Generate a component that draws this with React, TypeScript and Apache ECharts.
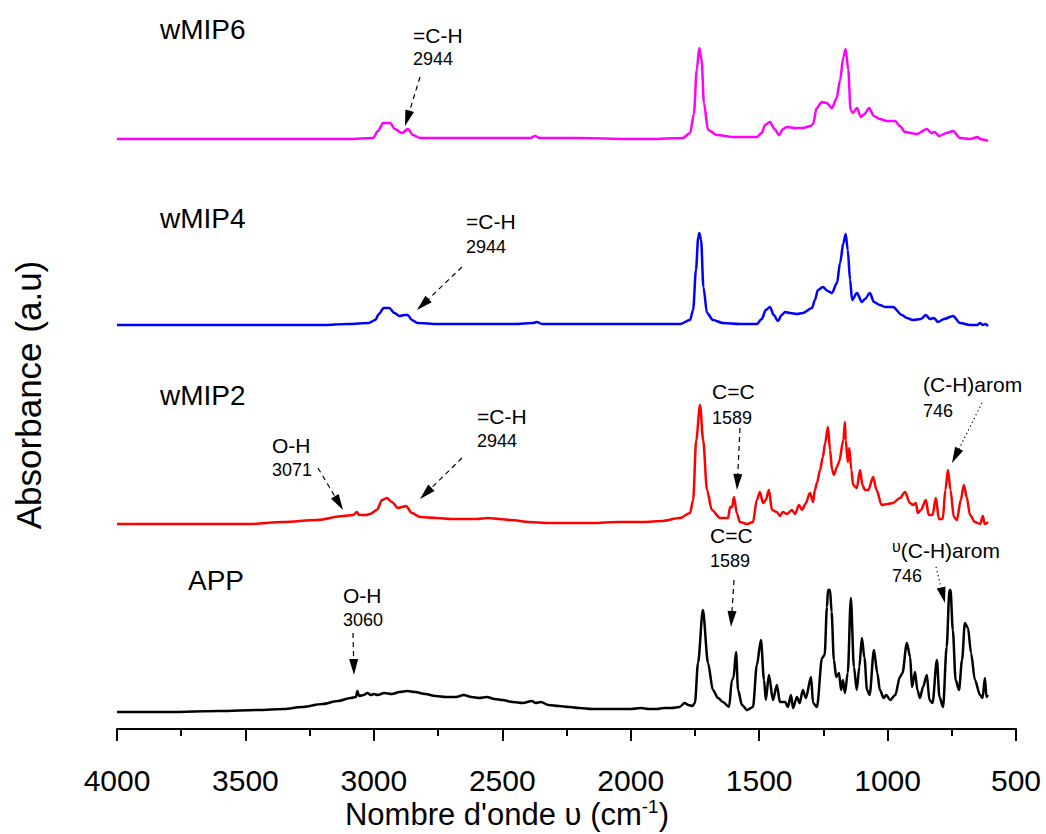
import React, { useEffect, useRef } from "react";
import * as echarts from "echarts";

// Wavenumber (cm-1) vs absorbance (arbitrary units, 100 = 1 a.u.), relative to each trace's own baseline
const appSpectrum: [number, number][] = [
  [4000, 0], [3800, 0], [3600, 1], [3450, 2], [3350, 3], [3280, 5], [3200, 8], [3140, 11], [3090, 14], [3070, 15],
  [3064, 21], [3058, 16], [3040, 17], [3025, 19], [3012, 17], [3000, 18], [2985, 17], [2960, 19], [2930, 18],
  [2900, 20], [2870, 21], [2840, 20], [2800, 18], [2760, 16], [2720, 15], [2680, 15], [2650, 17], [2620, 15],
  [2590, 14], [2560, 15], [2530, 13], [2500, 12], [2460, 10], [2420, 9], [2385, 11], [2370, 9], [2350, 10],
  [2320, 7], [2280, 6], [2240, 5], [2200, 4], [2150, 3], [2100, 3], [2050, 3], [2000, 3], [1960, 4], [1930, 3],
  [1900, 3], [1870, 4], [1840, 4], [1810, 5], [1790, 9], [1775, 7], [1760, 6], [1750, 9], [1738, 49], [1719, 102],
  [1699, 49], [1680, 22], [1660, 14], [1641, 10], [1617, 5], [1606, 32], [1600, 34], [1590, 60], [1582, 22],
  [1567, 7], [1547, 2], [1524, 5], [1509, 47], [1493, 72], [1481, 32], [1474, 12], [1462, 37], [1446, 12],
  [1431, 27], [1419, 10], [1399, 10], [1388, 5], [1376, 17], [1368, 4], [1353, 15], [1342, 9], [1330, 22],
  [1318, 14], [1298, 35], [1290, 9], [1275, 5], [1255, 54], [1245, 57], [1236, 105], [1232, 122], [1224, 122],
  [1218, 100], [1209, 52], [1200, 35], [1189, 39], [1181, 22], [1174, 32], [1166, 19], [1155, 39], [1143, 114],
  [1131, 45], [1120, 22], [1110, 45], [1100, 74], [1090, 54], [1080, 22], [1070, 17], [1053, 62], [1040, 39],
  [1030, 22], [1015, 14], [1005, 17], [990, 12], [970, 17], [952, 35], [942, 39], [925, 69], [912, 55], [905, 25],
  [893, 40], [884, 22], [874, 14], [862, 25], [847, 37], [837, 12], [825, 9], [808, 52], [798, 15], [784, 5],
  [770, 65], [759, 122], [755, 122], [746, 82], [735, 32], [722, 22], [710, 52], [699, 89], [687, 84], [675, 59],
  [660, 32], [640, 17], [630, 14], [621, 34], [615, 15], [609, 17],
];

const wmip2Spectrum: [number, number][] = [
  [4000, 0], [3800, 0], [3600, 0], [3482, 0], [3354, 2], [3221, 4], [3120, 8], [3081, 9], [3066, 12], [3058, 9],
  [3030, 9], [3015, 10], [2988, 14], [2968, 24], [2949, 26], [2930, 22], [2906, 16], [2890, 17], [2875, 18],
  [2852, 11], [2820, 7], [2754, 6], [2700, 5], [2653, 5], [2600, 5], [2556, 6], [2510, 5], [2470, 4], [2392, 2],
  [2326, 1], [2250, 1], [2150, 1], [2050, 2], [1950, 2], [1880, 3], [1808, 6], [1769, 11], [1757, 24], [1745, 84],
  [1730, 119], [1718, 84], [1703, 34], [1684, 14], [1652, 6], [1621, 6], [1613, 17], [1605, 17], [1598, 27],
  [1586, 10], [1575, 2], [1547, 0], [1524, 2], [1509, 24], [1497, 32], [1485, 21], [1474, 24], [1462, 34],
  [1450, 14], [1431, 12], [1419, 8], [1408, 12], [1392, 10], [1372, 14], [1360, 10], [1345, 19], [1333, 14],
  [1320, 20], [1302, 31], [1290, 22], [1283, 34], [1275, 41], [1263, 54], [1252, 67], [1243, 81], [1232, 97],
  [1224, 74], [1216, 54], [1209, 49], [1197, 57], [1189, 62], [1172, 84], [1166, 102], [1163, 84], [1155, 62],
  [1149, 76], [1141, 54], [1134, 39], [1120, 36], [1107, 54], [1098, 39], [1088, 34], [1075, 34], [1056, 47],
  [1043, 34], [1023, 19], [1000, 20], [979, 21], [952, 26], [932, 32], [913, 21], [900, 19], [890, 21], [882, 11],
  [870, 14], [851, 24], [840, 9], [825, 9], [812, 26], [800, 5], [785, 5], [775, 34], [765, 54], [755, 34],
  [742, 7], [730, 4], [715, 24], [703, 39], [692, 27], [679, 9], [660, 2], [640, 0], [629, 8], [622, 0], [609, 2],
];

const wmip4Spectrum: [number, number][] = [
  [4000, 0], [3800, 0], [3600, 0], [3400, 0], [3200, 0], [3100, 1], [3020, 2], [2995, 5], [2980, 11], [2962, 17],
  [2940, 17], [2920, 12], [2900, 9], [2880, 10], [2868, 10], [2852, 5], [2830, 2], [2750, 1], [2600, 1], [2450, 1],
  [2380, 2], [2365, 3], [2345, 1], [2200, 1], [2050, 1], [1900, 1], [1808, 1], [1769, 5], [1757, 15], [1746, 55],
  [1737, 88], [1733, 92], [1726, 85], [1717, 38], [1703, 12], [1680, 5], [1641, 2], [1575, 1], [1509, 1],
  [1490, 6], [1474, 15], [1458, 18], [1443, 10], [1427, 4], [1412, 10], [1399, 13], [1380, 12], [1353, 11],
  [1330, 12], [1294, 17], [1283, 25], [1271, 35], [1252, 38], [1233, 34], [1217, 32], [1197, 42], [1185, 62],
  [1172, 82], [1163, 91], [1155, 75], [1146, 45], [1138, 25], [1119, 32], [1100, 23], [1088, 26], [1069, 32],
  [1053, 23], [1030, 20], [1010, 18], [979, 18], [944, 10], [925, 7], [901, 5], [870, 6], [851, 10], [835, 6],
  [819, 7], [804, 3], [780, 6], [745, 9], [718, 2], [679, 0], [650, 0], [640, 2], [630, 0], [620, 1], [609, -1],
];

const wmip6Spectrum: [number, number][] = [
  [4000, 0], [3800, 0], [3600, 0], [3400, 0], [3200, 0], [3100, 0], [3003, 1], [2984, 8], [2964, 16], [2937, 16],
  [2918, 10], [2891, 6], [2867, 10], [2848, 4], [2820, 1], [2700, 1], [2500, 1], [2390, 1], [2373, 3], [2355, 1],
  [2200, 1], [2000, 0], [1925, 0], [1797, 1], [1769, 6], [1754, 25], [1743, 69], [1733, 91], [1724, 79],
  [1715, 36], [1699, 9], [1664, 4], [1602, 2], [1509, 2], [1490, 6], [1477, 14], [1458, 17], [1440, 10],
  [1423, 4], [1407, 10], [1392, 12], [1360, 11], [1330, 11], [1300, 13], [1290, 15], [1276, 31], [1256, 37],
  [1237, 36], [1217, 31], [1198, 41], [1185, 59], [1172, 82], [1163, 90], [1153, 69], [1144, 29], [1135, 26],
  [1119, 31], [1104, 22], [1090, 25], [1072, 31], [1053, 23], [1030, 20], [1002, 18], [971, 18], [952, 13],
  [932, 7], [886, 5], [847, 10], [830, 6], [816, 7], [800, 3], [770, 6], [745, 8], [718, 1], [679, 0], [648, 2],
  [640, 0], [620, -1], [609, -2],
];

const seriesNames = ["wMIP6", "wMIP4", "wMIP2", "APP"];
const seriesColors = ["#FF00FF", "#0000FF", "#FF0000", "#000000"];
const seriesOffsets = [590, 404, 205, 17];
const seriesData = [wmip6Spectrum, wmip4Spectrum, wmip2Spectrum, appSpectrum];

const xTicks = [4000, 3500, 3000, 2500, 2000, 1500, 1000, 500];

const FONT = '"Liberation Sans", Arial, Helvetica, sans-serif';

// Layout of labels and annotation arrows (pixels)
const traceLabels = [
  { text: "wMIP6", x: 160, y: 29 },
  { text: "wMIP4", x: 160, y: 218 },
  { text: "wMIP2", x: 160, y: 395 },
  { text: "APP", x: 188, y: 580 },
];

const bandLabels = [
  { name: "=C-H", value: "2944", x: 413, y1: 35, y2: 59 },
  { name: "=C-H", value: "2944", x: 466, y1: 221, y2: 247 },
  { name: "O-H", value: "3071", x: 272, y1: 445, y2: 470 },
  { name: "=C-H", value: "2944", x: 477, y1: 416, y2: 441 },
  { name: "C=C", value: "1589", x: 712, y1: 391, y2: 418 },
  { name: "(C-H)arom", value: "746", x: 923, y1: 384, y2: 411 },
  { name: "O-H", value: "3060", x: 343, y1: 595, y2: 620 },
  { name: "C=C", value: "1589", x: 710, y1: 535, y2: 561 },
  { name: "{u|υ}(C-H)arom", value: "746", x: 892, y1: 550, y2: 576 },
];

const arrows = [
  { x1: 420, y1: 77, x2: 405, y2: 126, dotted: false },
  { x1: 462, y1: 267, x2: 417, y2: 310, dotted: false },
  { x1: 318, y1: 468, x2: 343, y2: 510, dotted: false },
  { x1: 462, y1: 458, x2: 420, y2: 499, dotted: false },
  { x1: 740, y1: 428, x2: 737, y2: 490, dotted: false },
  { x1: 982, y1: 403, x2: 952, y2: 463, dotted: true },
  { x1: 353, y1: 633, x2: 354, y2: 675, dotted: false },
  { x1: 734, y1: 580, x2: 731, y2: 627, dotted: false },
  { x1: 936, y1: 567, x2: 945, y2: 603, dotted: true },
];

function arrowElements(a: { x1: number; y1: number; x2: number; y2: number; dotted: boolean }) {
  const dx = a.x2 - a.x1;
  const dy = a.y2 - a.y1;
  const len = Math.hypot(dx, dy);
  const ux = dx / len;
  const uy = dy / len;
  const hl = 16;
  const hw = 4.5;
  const bx = a.x2 - ux * hl;
  const by = a.y2 - uy * hl;
  const nx = -uy;
  const ny = ux;
  return [
    {
      type: "line",
      shape: { x1: a.x1, y1: a.y1, x2: bx, y2: by },
      style: { stroke: "#000", lineWidth: 1.2, lineDash: a.dotted ? [1.2, 3] : [5, 4] },
      silent: true,
    },
    {
      type: "polygon",
      shape: { points: [[a.x2, a.y2], [bx + nx * hw, by + ny * hw], [bx - nx * hw, by - ny * hw]] },
      style: { fill: "#000" },
      silent: true,
    },
  ];
}

export default function App() {
  const ref = useRef<HTMLDivElement>(null);

  useEffect(() => {
    document.body.style.margin = "0";
    const chart = echarts.init(ref.current!, null, { renderer: "svg" });

    const graphics: any[] = [];
    traceLabels.forEach((t) => {
      graphics.push({
        type: "text",
        x: t.x,
        y: t.y,
        silent: true,
        style: { text: t.text, fill: "#000", fontSize: 28, fontFamily: FONT, align: "left", verticalAlign: "middle" },
      });
    });
    bandLabels.forEach((b) => {
      graphics.push({
        type: "text",
        x: b.x,
        y: b.y1,
        silent: true,
        style: {
          text: b.name,
          fill: "#000",
          fontSize: 21,
          fontFamily: FONT,
          align: "left",
          verticalAlign: "middle",
          rich: { u: { fontSize: 16, fontFamily: FONT, fill: "#000", verticalAlign: "top", padding: [0, 0, 8, 0] } },
        },
      });
      graphics.push({
        type: "text",
        x: b.x,
        y: b.y2,
        silent: true,
        style: { text: b.value, fill: "#000", fontSize: 18, fontFamily: FONT, align: "left", verticalAlign: "middle" },
      });
    });
    arrows.forEach((a) => graphics.push(...arrowElements(a)));
    graphics.push({
      type: "text",
      x: 507,
      y: 814,
      silent: true,
      style: {
        text: "Nombre d'onde υ (cm{sup|-1})",
        fill: "#000",
        fontSize: 31,
        fontFamily: FONT,
        align: "center",
        verticalAlign: "middle",
        rich: { sup: { fontSize: 19, fontFamily: FONT, fill: "#000", padding: [0, 0, 15, 0] } },
      },
    });
    graphics.push({
      type: "text",
      x: 28,
      y: 395,
      rotation: Math.PI / 2,
      silent: true,
      style: { text: "Absorbance (a.u)", fill: "#000", fontSize: 35, fontFamily: FONT, align: "center", verticalAlign: "middle" },
    });

    chart.setOption({
      animation: false,
      backgroundColor: "#fff",
      grid: { left: 117, right: 30, top: 29, bottom: 105, containLabel: false },
      xAxis: {
        type: "value",
        inverse: true,
        min: 500,
        max: 4000,
        interval: 500,
        axisLine: { show: true, onZero: false, lineStyle: { color: "#000", width: 2 } },
        axisTick: { show: true, length: 12, lineStyle: { color: "#000", width: 2 } },
        minorTick: { show: true, splitNumber: 2, length: 7, lineStyle: { color: "#000", width: 2 } },
        splitLine: { show: false },
        axisLabel: {
          color: "#000",
          fontSize: 30,
          fontFamily: FONT,
          margin: 36,
          formatter: (v: number) => (xTicks.includes(v) ? String(v) : ""),
        },
      },
      yAxis: { type: "value", min: 0, max: 700, show: false },
      graphic: graphics,
      series: seriesData.map((d, i) => ({
        name: seriesNames[i],
        type: "line",
        data: d.map(([w, h]) => [w, h + seriesOffsets[i]]),
        showSymbol: false,
        symbol: "none",
        smooth: 0.3,
        smoothMonotone: "x",
        lineStyle: { color: seriesColors[i], width: 2.5 },
        itemStyle: { color: seriesColors[i] },
        silent: true,
      })),
    });

    return () => chart.dispose();
  }, []);

  return <div ref={ref} style={{ width: 1046, height: 834 }} />;
}
